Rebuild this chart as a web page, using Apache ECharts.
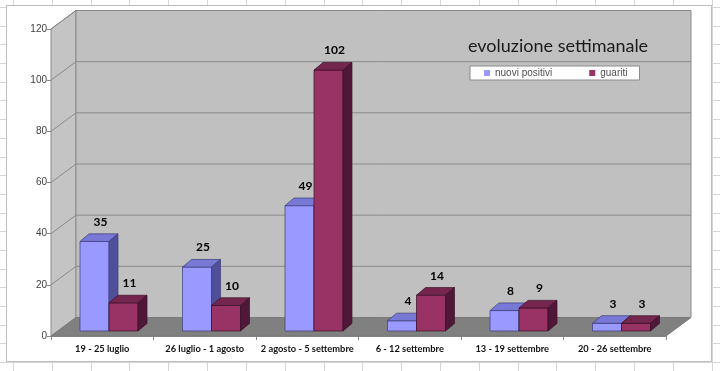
<!DOCTYPE html>
<html>
<head>
<meta charset="utf-8">
<script src="https://cdn.jsdelivr.net/npm/echarts@6/dist/echarts.min.js"></script>
<style>
html,body{margin:0;padding:0;background:#fff;}
#c{width:720px;height:371px;}
</style>
</head>
<body>
<div id="c"></div>
<script>
// ---- data ----
const categories = ['19 - 25 luglio', '26 luglio - 1 agosto', '2 agosto - 5 settembre', '6 - 12 settembre', '13 - 19 settembre', '20 - 26 settembre'];
const nuoviPositivi = [35, 25, 49, 4, 8, 3];
const guariti = [11, 10, 102, 14, 9, 3];
const yTicks = [0, 20, 40, 60, 80, 100, 120];
const seriesNames = ['nuovi positivi', 'guariti'];
const titleText = 'evoluzione settimanale';

// ---- style constants ----
const WALL_DX = 25, WALL_DY = -18.5;
const BAR_OFF_DX = 6.75, BAR_OFF_DY = -5;
const BAR_DX = 9, BAR_DY = -7.6;
const BAR_W_RATIO = 29 / 102.5;
const palettes = [
  { front: '#9999FF', top: '#7878D6', side: '#50509A', stroke: '#3c3c78' },
  { front: '#993366', top: '#74264E', side: '#501838', stroke: '#3a1028' }
];

const chart = echarts.init(document.getElementById('c'), null, { renderer: 'canvas' });

// spreadsheet background grid
const bg = [];
for (let x = 12.87; x < 720; x += 38.83) {
  const xx = Math.round(x) + 0.5;
  bg.push({ type: 'line', shape: { x1: xx, y1: 0, x2: xx, y2: 371 }, style: { stroke: '#D6D6D6', lineWidth: 1 }, silent: true, z: -10 });
}
for (let y = 6.9; y < 371; y += 18.7) {
  const yy = Math.round(y) + 0.5;
  bg.push({ type: 'line', shape: { x1: 0, y1: yy, x2: 720, y2: yy }, style: { stroke: '#D6D6D6', lineWidth: 1 }, silent: true, z: -10 });
}
bg.push({ type: 'rect', shape: { x: 6.5, y: 5.5, width: 705, height: 356 }, style: { fill: '#fff', stroke: '#BDBDBD', lineWidth: 1 }, silent: true, z: -5 });

function wallsRender(params, api) {
  const cs = params.coordSys;
  const x0 = cs.x, w = cs.width;
  const yBottom = api.coord([0, yTicks[0]])[1];
  const yTop = api.coord([0, yTicks[yTicks.length - 1]])[1];
  const children = [];
  children.push({ type: 'polygon', shape: { points: [[x0, yTop], [x0 + WALL_DX, yTop + WALL_DY], [x0 + WALL_DX, yBottom + WALL_DY], [x0, yBottom]] }, style: { fill: '#C4C4C4', stroke: '#8A8A8A', lineWidth: 1 } });
  children.push({ type: 'rect', shape: { x: x0 + WALL_DX, y: yTop + WALL_DY, width: w, height: yBottom - yTop }, style: { fill: '#C0C0C0', stroke: '#8A8A8A', lineWidth: 1 } });
  children.push({ type: 'polygon', shape: { points: [[x0, yBottom], [x0 + WALL_DX, yBottom + WALL_DY], [x0 + w + WALL_DX, yBottom + WALL_DY], [x0 + w, yBottom]] }, style: { fill: '#808080', stroke: '#7A7A7A', lineWidth: 1 } });
  yTicks.forEach(t => {
    if (t === yTicks[0]) return;
    const y = api.coord([0, t])[1];
    children.push({ type: 'line', shape: { x1: x0 + WALL_DX, y1: y + WALL_DY, x2: x0 + w + WALL_DX, y2: y + WALL_DY }, style: { stroke: '#8A8A8A', lineWidth: 1 } });
    children.push({ type: 'line', shape: { x1: x0, y1: y, x2: x0 + WALL_DX, y2: y + WALL_DY }, style: { stroke: '#8A8A8A', lineWidth: 1 } });
  });
  return { type: 'group', children: children };
}

function barRender(s) {
  return function (params, api) {
    const idx = api.value(0), v = api.value(1);
    const p0 = api.coord([idx, 0]);
    const p1 = api.coord([idx, v]);
    const bw = api.size([1, 0])[0] * BAR_W_RATIO;
    const cx = p0[0] + BAR_OFF_DX;
    const xl = s === 0 ? cx - bw : cx;
    const xr = xl + bw;
    const yb = p0[1] + BAR_OFF_DY;
    const yt = p1[1] + BAR_OFF_DY;
    const pal = palettes[s];
    const st = { stroke: pal.stroke, lineWidth: 0.7 };
    return {
      type: 'group',
      children: [
        { type: 'polygon', shape: { points: [[xl, yt], [xr, yt], [xr, yb], [xl, yb]] }, style: Object.assign({ fill: pal.front }, st) },
        { type: 'polygon', shape: { points: [[xl, yt], [xr, yt], [xr + BAR_DX, yt + BAR_DY], [xl + BAR_DX, yt + BAR_DY]] }, style: Object.assign({ fill: pal.top }, st) },
        { type: 'polygon', shape: { points: [[xr, yt], [xr + BAR_DX, yt + BAR_DY], [xr + BAR_DX, yb + BAR_DY], [xr, yb]] }, style: Object.assign({ fill: pal.side }, st) },
        { type: 'text', z2: 100, style: { text: String(v), x: xl + bw / 2 + 6, y: yt - 19.5, align: 'center', verticalAlign: 'middle', fill: '#000', font: 'bold 12px Lato' } }
      ]
    };
  };
}

chart.setOption({
  animation: false,
  graphic: bg,
  title: {
    text: titleText, left: 463, top: 32,
    textStyle: { fontFamily: 'Lato', fontWeight: 'normal', fontSize: 18, color: '#1a1a1a' }
  },
  legend: {
    data: seriesNames, left: 470, top: 66, icon: 'rect', itemWidth: 6, itemHeight: 6, itemGap: 37,
    padding: [2, 12, 2, 14], backgroundColor: '#fff', borderColor: '#8A8A8A', borderWidth: 1,
    textStyle: { fontFamily: 'Liberation Sans', fontSize: 10, color: '#505050' }
  },
  grid: { left: 51, right: 54, top: 29, bottom: 35 },
  xAxis: {
    type: 'category', data: categories,
    axisLine: { show: true, lineStyle: { color: '#888', width: 1 } },
    axisTick: { show: true, length: 4, lineStyle: { color: '#888' } },
    axisLabel: { margin: 8, fontFamily: 'Lato', fontWeight: 'bold', fontSize: 9.3, color: '#111', interval: 0 },
    splitLine: { show: false }
  },
  yAxis: {
    type: 'value', min: 0, max: 120, interval: 20,
    axisLine: { show: true, lineStyle: { color: '#888', width: 1 } },
    axisTick: { show: true, length: 4, lineStyle: { color: '#888' } },
    axisLabel: { margin: 4, fontFamily: 'Liberation Sans', fontSize: 10, color: '#404040' },
    splitLine: { show: false }
  },
  series: [
    { type: 'custom', name: '_walls', z: 1, silent: true, renderItem: wallsRender, data: [[0, 0]], encode: { x: 0, y: 1 } },
    { type: 'custom', name: seriesNames[0], z: 2, silent: true, itemStyle: { color: palettes[0].front }, renderItem: barRender(0), data: nuoviPositivi.map((v, i) => [i, v]), encode: { x: 0, y: 1 } },
    { type: 'custom', name: seriesNames[1], z: 2, silent: true, itemStyle: { color: palettes[1].front }, renderItem: barRender(1), data: guariti.map((v, i) => [i, v]), encode: { x: 0, y: 1 } }
  ]
});
</script>
</body>
</html>
